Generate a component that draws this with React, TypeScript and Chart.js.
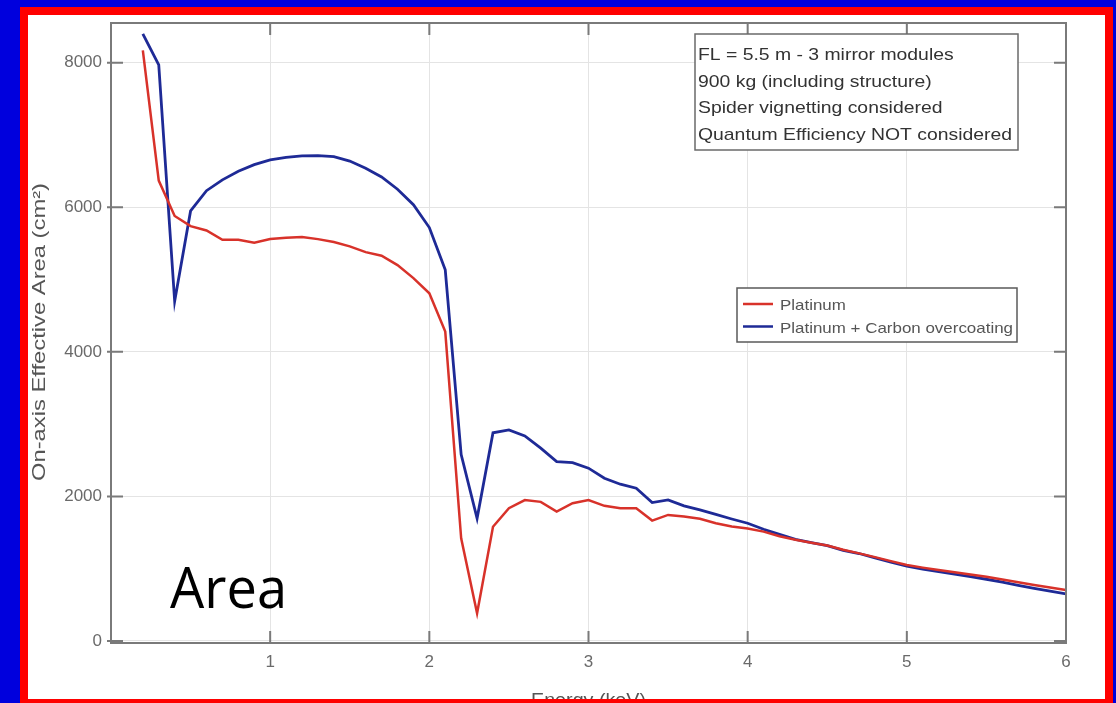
import React, { useEffect, useRef } from "react";
import { Chart, registerables } from "chart.js";

Chart.register(...registerables);

// ---- data ----
const energies = [
  0.2, 0.3, 0.4, 0.5, 0.6, 0.7, 0.8, 0.9, 1.0, 1.1, 1.2, 1.3, 1.4, 1.5, 1.6, 1.7, 1.8, 1.9, 2.0,
  2.1, 2.2, 2.3, 2.4, 2.5, 2.6, 2.7, 2.8, 2.9, 3.0, 3.1, 3.2, 3.3, 3.4, 3.5, 3.6, 3.7, 3.8, 3.9,
  4.0, 4.1, 4.2, 4.3, 4.4, 4.5, 4.6, 4.7, 4.8, 4.9, 5.0, 5.1, 5.2, 5.3, 5.4, 5.5, 5.6, 5.7, 5.8,
  5.9, 6.0,
];
const platinum = [
  8170, 6370, 5880, 5740, 5680, 5550, 5550, 5510, 5560, 5580, 5590, 5560, 5520, 5460, 5380, 5330,
  5200, 5020, 4810, 4280, 1420, 383, 1580, 1837, 1950, 1925, 1790, 1906, 1950, 1870, 1837, 1837,
  1666, 1744, 1721, 1690, 1629, 1583, 1555, 1513, 1450, 1400, 1360, 1320, 1262, 1212, 1160, 1105,
  1050, 1015, 983, 950, 920, 890, 850, 812, 775, 740, 706,
];
const platinumCarbon = [
  8400, 7970, 4700, 5950, 6230, 6380, 6500, 6590, 6657, 6690, 6713, 6715, 6700, 6640, 6540, 6420,
  6250, 6035, 5720, 5135, 2580, 1697, 2880, 2920, 2837, 2667, 2482, 2468, 2391, 2252, 2169, 2114,
  1915, 1952, 1869, 1813, 1752, 1688, 1629, 1546, 1476, 1407, 1362, 1320, 1255, 1210, 1150, 1090,
  1035, 995, 960, 925, 890, 854, 815, 770, 729, 690, 650,
];
const seriesLabels = ["Platinum", "Platinum + Carbon overcoating"];
const seriesColors = ["#d8322a", "#1e2a96"];
const xTickValues = [1, 2, 3, 4, 5, 6];
const yTickValues = [0, 2000, 4000, 6000, 8000];
const noteLines = [
  "FL = 5.5 m - 3 mirror modules",
  "900 kg (including structure)",
  "Spider vignetting considered",
  "Quantum Efficiency NOT considered",
];
const xTitle = "Energy (keV)";
const yTitle = "On-axis Effective Area (cm²)";
const overlayLabel = "Area";

function fittedText(ctx: CanvasRenderingContext2D, text: string, x: number, y: number, sx: number) {
  ctx.save();
  ctx.translate(x, y);
  ctx.scale(sx, 1);
  ctx.fillText(text, 0, 0);
  ctx.restore();
}

const decorPlugin = {
  id: "decor",
  afterDraw(chart: any) {
    const ctx: CanvasRenderingContext2D = chart.ctx;
    const { left, right, top, bottom } = chart.chartArea;
    const xs = chart.scales.x;
    const ys = chart.scales.y;
    ctx.save();
    // frame
    ctx.strokeStyle = "#7a7a7a";
    ctx.lineWidth = 2;
    ctx.strokeRect(left, top, right - left, bottom - top);
    // inward ticks
    ctx.lineWidth = 2;
    ctx.beginPath();
    xTickValues.forEach((v) => {
      const px = xs.getPixelForValue(v);
      ctx.moveTo(px, bottom);
      ctx.lineTo(px, bottom - 12);
      ctx.moveTo(px, top);
      ctx.lineTo(px, top + 12);
    });
    yTickValues.forEach((v) => {
      const py = ys.getPixelForValue(v);
      ctx.moveTo(left - 4, py);
      ctx.lineTo(left + 12, py);
      ctx.moveTo(right, py);
      ctx.lineTo(right - 12, py);
    });
    ctx.stroke();

    // annotation box
    ctx.fillStyle = "#ffffff";
    ctx.fillRect(667, 19, 323, 116);
    ctx.strokeStyle = "#6a6a6a";
    ctx.lineWidth = 1.5;
    ctx.strokeRect(667, 19, 323, 116);
    ctx.fillStyle = "#333333";
    ctx.font = "17px 'Liberation Sans', Arial, sans-serif";
    ctx.textAlign = "left";
    ctx.textBaseline = "alphabetic";
    const longest = ctx.measureText(noteLines[3]).width;
    const nsx = 314 / longest;
    noteLines.forEach((t, i) => fittedText(ctx, t, 670, 45 + i * 26.5, nsx));

    // legend box
    ctx.fillStyle = "#ffffff";
    ctx.fillRect(709, 273, 280, 54);
    ctx.strokeStyle = "#5a5a5a";
    ctx.lineWidth = 1.5;
    ctx.strokeRect(709, 273, 280, 54);
    ctx.font = "15px 'Liberation Sans', Arial, sans-serif";
    ctx.fillStyle = "#555555";
    const lw = ctx.measureText(seriesLabels[1]).width;
    const lsx = 233 / lw;
    seriesLabels.forEach((t, i) => {
      const y = 289 + i * 22.5;
      ctx.strokeStyle = seriesColors[i];
      ctx.lineWidth = 2.5;
      ctx.beginPath();
      ctx.moveTo(715, y);
      ctx.lineTo(745, y);
      ctx.stroke();
      fittedText(ctx, t, 752, y + 6, lsx);
    });

    // axis titles
    ctx.fillStyle = "#555555";
    ctx.font = "18px 'Liberation Sans', Arial, sans-serif";
    ctx.textAlign = "center";
    const xw = ctx.measureText(xTitle).width;
    fittedText(ctx, xTitle, (left + right) / 2, 691, 115 / xw);
    const yw = ctx.measureText(yTitle).width;
    ctx.save();
    ctx.translate(17, 317);
    ctx.rotate(-Math.PI / 2);
    ctx.scale(298 / yw, 1);
    ctx.fillText(yTitle, 0, 0);
    ctx.restore();

    // big label
    ctx.fillStyle = "#000000";
    ctx.font = "56px 'Open Sans', 'Noto Sans', sans-serif";
    ctx.textAlign = "left";
    const aw = ctx.measureText(overlayLabel).width;
    fittedText(ctx, overlayLabel, 142, 593, 117 / aw);
    ctx.restore();
  },
};

export default function App() {
  const canvasRef = useRef<HTMLCanvasElement | null>(null);

  useEffect(() => {
    if (!canvasRef.current) return;
    const tickFont = { family: "'Liberation Sans', Arial, sans-serif", size: 17 };
    const zeroPad = (s: any) => {
      s.paddingTop = 0;
      s.paddingBottom = 0;
      s.paddingLeft = 0;
      s.paddingRight = 0;
    };
    const chart = new Chart(canvasRef.current, {
      type: "line",
      data: {
        datasets: [
          {
            label: seriesLabels[0],
            data: energies.map((e, i) => ({ x: e, y: platinum[i] })),
            borderColor: seriesColors[0],
            borderWidth: 2.5,
            pointRadius: 0,
            tension: 0,
            fill: false,
          },
          {
            label: seriesLabels[1],
            data: energies.map((e, i) => ({ x: e, y: platinumCarbon[i] })),
            borderColor: seriesColors[1],
            borderWidth: 2.8,
            pointRadius: 0,
            tension: 0,
            fill: false,
          },
        ],
      },
      options: {
        animation: false,
        responsive: false,
        devicePixelRatio: 1,
        layout: { padding: { left: 0, right: 39, top: 8, bottom: 0 } },
        plugins: {
          legend: { display: false },
          tooltip: { enabled: false },
        },
        scales: {
          x: {
            type: "linear",
            min: 0,
            max: 6,
            afterBuildTicks: (s: any) => {
              s.ticks = xTickValues.map((v) => ({ value: v }));
            },
            afterFit: (s: any) => {
              s.height = 56;
              zeroPad(s);
            },
            ticks: {
              font: tickFont,
              color: "#6a6a6a",
              padding: 9,
              maxRotation: 0,
              callback: (v: any) => String(v),
            },
            grid: { color: "#e4e4e4", lineWidth: 1, drawTicks: false },
            border: { display: false },
          },
          y: {
            type: "linear",
            min: -28,
            max: 8550,
            afterBuildTicks: (s: any) => {
              s.ticks = yTickValues.map((v) => ({ value: v }));
            },
            afterFit: (s: any) => {
              s.width = 83;
              zeroPad(s);
            },
            ticks: {
              font: tickFont,
              color: "#6a6a6a",
              padding: 9,
              callback: (v: any) => String(v),
            },
            grid: { color: "#e4e4e4", lineWidth: 1, drawTicks: false },
            border: { display: false },
          },
        },
      },
      plugins: [decorPlugin],
    } as any);
    return () => chart.destroy();
  }, []);

  return (
    <div
      style={{
        position: "fixed",
        left: 0,
        top: 0,
        width: 1116,
        height: 703,
        background: "#0000dd",
        overflow: "hidden",
      }}
    >
      <div
        style={{
          position: "absolute",
          left: 20,
          top: 7,
          width: 1093,
          height: 700,
          boxSizing: "border-box",
          border: "8px solid #ff0000",
          background: "#ffffff",
          overflow: "hidden",
        }}
      >
        <canvas
          ref={canvasRef}
          width={1077}
          height={684}
          style={{ position: "absolute", left: 0, top: 0, width: 1077, height: 684 }}
        />
      </div>
    </div>
  );
}
